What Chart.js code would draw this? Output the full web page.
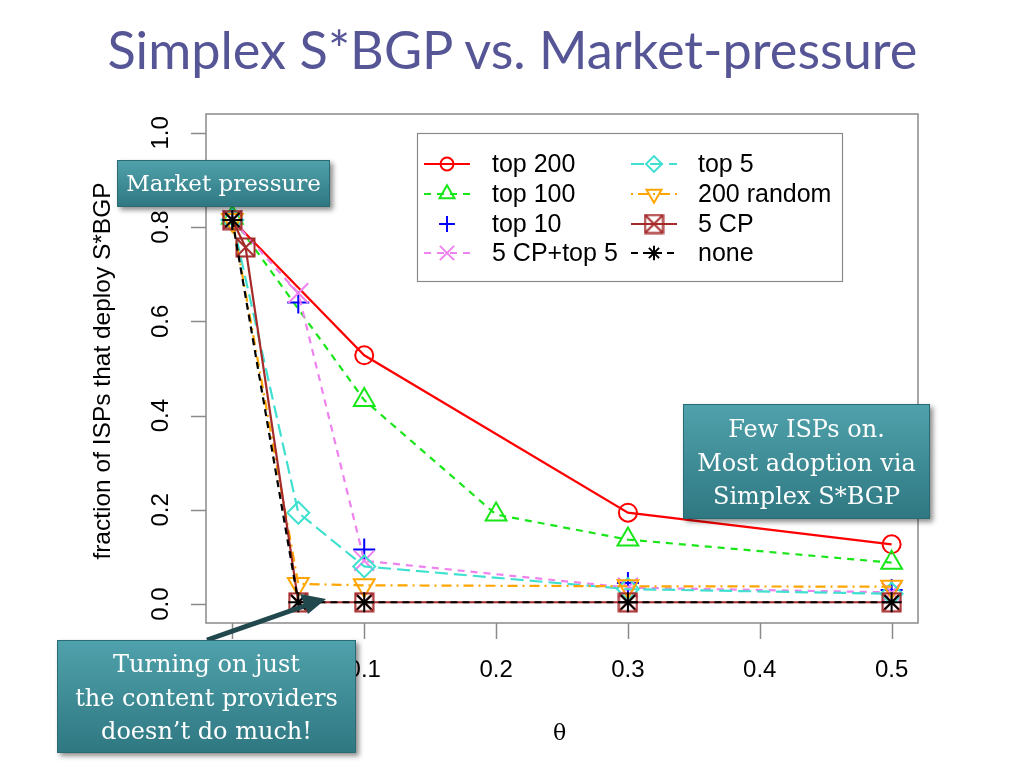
<!DOCTYPE html>
<html>
<head>
<meta charset="utf-8">
<script src="https://cdn.jsdelivr.net/npm/chart.js@4.4.1/dist/chart.umd.min.js"></script>
<style>
  body { margin: 0; background: #fff; width: 1024px; height: 768px; overflow: hidden; position: relative; }
  #chart { position: absolute; left: 0; top: 0; }
  .title { position: absolute; left: 0; top: 17px; width: 1024px; text-align: center;
           font-family: Lato, 'Open Sans', sans-serif; font-size: 53px; color: #565697; white-space: nowrap; }
  .title span { display: inline-block; transform-origin: center; }
  .note { position: absolute; box-sizing: border-box; color: #fff; text-align: center;
          font-family: 'DejaVu Serif', serif; font-size: 24px; line-height: 33.5px;
          background: linear-gradient(#4fa1ab, #2f7882); border: 1px solid #2a6a72;
          box-shadow: 3px 3px 5px rgba(0,0,0,0.45); }
  .theta { position: absolute; left: 553px; top: 720px; font-family: 'DejaVu Serif', serif; font-size: 22px; }
  svg { position: absolute; left: 0; top: 0; }
</style>
</head>
<body>
<canvas id="chart" width="1024" height="768"></canvas>
<div class="title"><span id="title">Simplex S*BGP vs. Market-pressure</span></div>
<div class="theta">θ</div>

<svg width="1024" height="768">
  <line x1="207" y1="640" x2="310" y2="604" stroke="#21494d" stroke-width="5" />
  <polygon points="326,599 300,594 308,614" fill="#21494d" />
</svg>

<div class="note" style="left:117px;top:160px;width:213px;height:47px;line-height:44px;font-size:23px;">Market pressure</div>
<div class="note" style="left:683px;top:404px;width:247px;height:115px;padding-top:8px;">Few ISPs on.<br>Most adoption via<br>Simplex S*BGP</div>
<div class="note" style="left:57px;top:640px;width:299px;height:113px;padding-top:7px;">Turning on just<br>the content providers<br>doesn’t do much!</div>

<script>
// values (theta on x, fraction deploying on y)
const seriesNames = ['top 200', 'top 100', 'top 10', '5 CP+top 5', 'top 5', '200 random', '5 CP', 'none'];

const top200X = [0, 0.1, 0.3, 0.5];
const top200 = [0.815, 0.528, 0.194, 0.127];

const top100X = [0, 0.1, 0.2, 0.3, 0.5];
const top100 = [0.82, 0.433, 0.19, 0.137, 0.088];

const top10X = [0, 0.05, 0.1, 0.3, 0.5];
const top10 = [0.815, 0.64, 0.116, 0.045, 0.03];

const cpTop5X = [0, 0.05, 0.1, 0.3, 0.5];
const cpTop5 = [0.815, 0.66, 0.092, 0.035, 0.025];

const top5X = [0, 0.05, 0.1, 0.3, 0.5];
const top5 = [0.815, 0.194, 0.08, 0.032, 0.022];

const random200X = [0, 0.05, 0.1, 0.3, 0.5];
const random200 = [0.815, 0.043, 0.04, 0.038, 0.037];

const cp5X = [0, 0.01, 0.05, 0.1, 0.3, 0.5];
const cp5 = [0.815, 0.757, 0.004, 0.004, 0.004, 0.004];

const noneX = [0, 0.05, 0.1, 0.3, 0.5];
const none = [0.815, 0.004, 0.004, 0.004, 0.004];

const xTicks = [0, 0.1, 0.2, 0.3, 0.4, 0.5];
const xTickLabels = ['0.0', '0.1', '0.2', '0.3', '0.4', '0.5'];
const yTicks = [0, 0.2, 0.4, 0.6, 0.8, 1.0];
const yTickLabels = ['0.0', '0.2', '0.4', '0.6', '0.8', '1.0'];

// fit the title to the width it has on the slide
(function() {
  const t = document.getElementById('title');
  const w = t.getBoundingClientRect().width;
  t.style.transform = 'scaleX(' + (810 / w) + ')';
})();

function pts(xs, ys) {
  return xs.map((x, i) => ({ x: x, y: ys[i] }));
}

// square with an x inside, like R pch=7
function boxedX(color) {
  const c = document.createElement('canvas');
  c.width = 21; c.height = 21;
  const g = c.getContext('2d');
  g.strokeStyle = color;
  g.lineWidth = 2;
  g.strokeRect(1.5, 1.5, 18, 18);
  g.beginPath();
  g.moveTo(2, 2); g.lineTo(19, 19);
  g.moveTo(19, 2); g.lineTo(2, 19);
  g.stroke();
  return c;
}

function series(label, xs, ys, color, dash, style, radius, extra) {
  return Object.assign({
    label: label,
    data: pts(xs, ys),
    borderColor: color,
    backgroundColor: 'rgba(0,0,0,0)',
    borderWidth: 2.2,
    borderDash: dash,
    pointStyle: style,
    pointRadius: radius,
    pointHoverRadius: radius,
    pointBorderWidth: 2,
    pointBorderColor: color,
    pointBackgroundColor: 'rgba(0,0,0,0)',
    tension: 0,
    fill: false
  }, extra || {});
}

const datasets = [
  series(seriesNames[0], top200X, top200, '#ff0000', [], 'circle', 9),
  series(seriesNames[1], top100X, top100, '#19e619', [7, 6], 'triangle', 12),
  series(seriesNames[2], top10X, top10, '#0000ff', [], 'cross', 11, { showLine: false }),
  series(seriesNames[3], cpTop5X, cpTop5, '#ee82ee', [7, 6], 'crossRot', 14),
  series(seriesNames[4], top5X, top5, '#40e0d0', [13, 6], 'rectRot', 11),
  series(seriesNames[5], random200X, random200, '#ffa500', [2, 5, 10, 5], 'triangle', 12, { pointRotation: 180 }),
  series(seriesNames[6], cp5X, cp5, '#a52a2a', [], boxedX('#a52a2a'), 10),
  series(seriesNames[7], noneX, none, '#000000', [7, 5], 'star', 10)
];
// R draws later series on top
datasets.forEach((d, i) => { d.order = datasets.length - 1 - i; });

// box, outward ticks, rotated y labels and the two-column legend, R style
const rFrame = {
  id: 'rFrame',
  afterDraw(chart) {
    const ctx = chart.ctx;
    const a = chart.chartArea;
    const xs = chart.scales.x, ys = chart.scales.y;
    ctx.save();
    ctx.strokeStyle = '#8a8a8a';
    ctx.lineWidth = 1.5;
    ctx.setLineDash([]);
    ctx.strokeRect(a.left, a.top, a.right - a.left, a.bottom - a.top);

    ctx.beginPath();
    xTicks.forEach(v => {
      const px = Math.round(xs.getPixelForValue(v)) + 0.5;
      ctx.moveTo(px, a.bottom); ctx.lineTo(px, a.bottom + 16);
    });
    yTicks.forEach(v => {
      const py = Math.round(ys.getPixelForValue(v)) + 0.5;
      ctx.moveTo(a.left, py); ctx.lineTo(a.left - 15, py);
    });
    ctx.stroke();

    ctx.fillStyle = '#000';
    ctx.font = '24px "Liberation Sans", Arial, sans-serif';
    ctx.textAlign = 'center';
    ctx.textBaseline = 'middle';
    xTicks.forEach((v, i) => {
      ctx.fillText(xTickLabels[i], xs.getPixelForValue(v), 670);
    });
    yTicks.forEach((v, i) => {
      ctx.save();
      ctx.translate(161, ys.getPixelForValue(v));
      ctx.rotate(-Math.PI / 2);
      ctx.fillText(yTickLabels[i], 0, 0);
      ctx.restore();
    });
    ctx.save();
    ctx.translate(103, 371);
    ctx.rotate(-Math.PI / 2);
    ctx.font = '24.5px "Liberation Sans", Arial, sans-serif';
    ctx.fillText('fraction of ISPs that deploy S*BGP', 0, 0);
    ctx.restore();

    // legend
    ctx.fillStyle = '#fff';
    ctx.fillRect(417, 133, 426, 149);
    ctx.strokeStyle = '#8a8a8a';
    ctx.lineWidth = 1.2;
    ctx.strokeRect(417.5, 133.5, 425, 148);
    const rows = [164, 194, 224, 253];
    chart.data.datasets.forEach((d, i) => {
      const col = Math.floor(i / 4);
      const cx = col === 0 ? 447 : 654;
      const tx = col === 0 ? 492 : 698;
      const cy = rows[i % 4];
      ctx.strokeStyle = d.borderColor;
      if (d.showLine !== false) {
        ctx.lineWidth = d.borderWidth;
        ctx.setLineDash(d.borderDash);
        ctx.beginPath();
        ctx.moveTo(cx - 23, cy); ctx.lineTo(cx + 23, cy);
        ctx.stroke();
      }
      ctx.setLineDash([]);
      ctx.lineWidth = 2;
      ctx.fillStyle = 'rgba(0,0,0,0)';
      Chart.helpers.drawPoint(ctx, {
        pointStyle: d.pointStyle,
        radius: d.pointRadius * 0.72,
        rotation: d.pointRotation || 0,
        borderWidth: 2
      }, cx, cy);
      ctx.fillStyle = '#000';
      ctx.textAlign = 'left';
      ctx.font = '25px "Liberation Sans", Arial, sans-serif';
      ctx.fillText(d.label, tx, cy + 1);
    });
    ctx.restore();
  }
};

new Chart(document.getElementById('chart'), {
  type: 'line',
  data: { datasets: datasets },
  options: {
    responsive: false,
    animation: false,
    layout: { padding: { left: 206, right: 106, top: 114, bottom: 145 } },
    scales: {
      x: { type: 'linear', min: -0.02, max: 0.52, display: false },
      y: { type: 'linear', min: -0.04, max: 1.04, display: false }
    },
    plugins: { legend: { display: false }, tooltip: { enabled: false } }
  },
  plugins: [rFrame]
});
</script>
</body>
</html>
